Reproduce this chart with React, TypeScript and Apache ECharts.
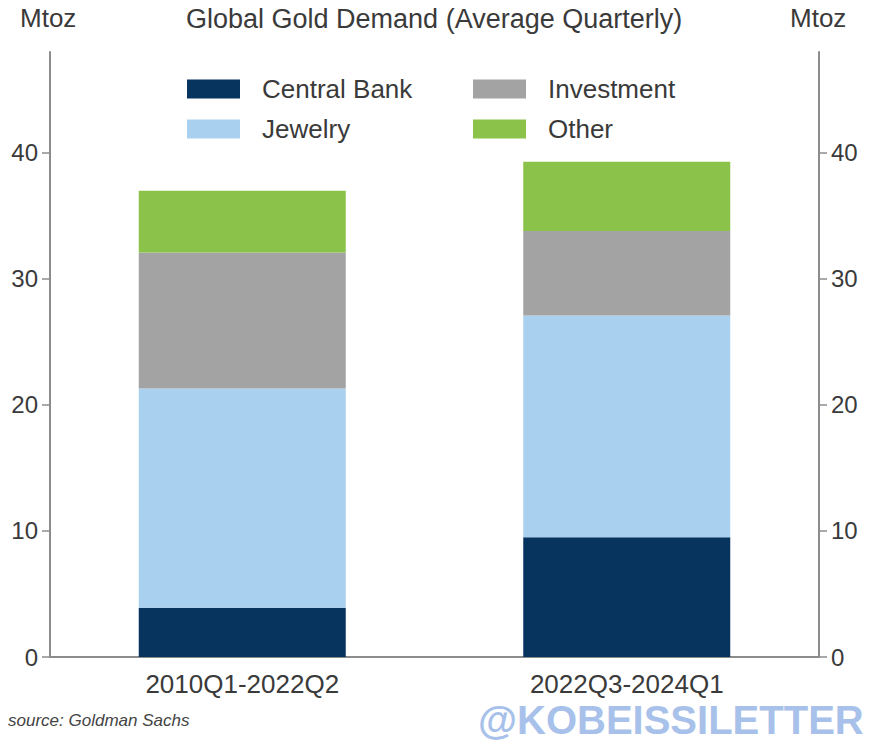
import React, { useEffect, useRef } from "react";
import * as echarts from "echarts";

const categories = ["2010Q1-2022Q2", "2022Q3-2024Q1"];
const centralBank = [3.9, 9.5];
const jewelry = [17.4, 17.6];
const investment = [10.8, 6.7];
const other = [4.9, 5.5];
const yTicks = [0, 10, 20, 30, 40];

const seriesNames = ["Central Bank", "Jewelry", "Investment", "Other"];
const seriesColors = ["#07335f", "#a9d1ef", "#a3a3a3", "#8bc249"];
const seriesData = [centralBank, jewelry, investment, other];

const FONT = "'Liberation Sans', Arial, sans-serif";
const TXT = "#3a3a3a";

export default function App() {
  const ref = useRef<HTMLDivElement>(null);
  useEffect(() => {
    if (!ref.current) return;
    const chart = echarts.init(ref.current, undefined, { renderer: "svg" });
    const legendPos = [
      { left: 187, top: 76 },
      { left: 187, top: 116 },
      { left: 473, top: 76 },
      { left: 473, top: 116 },
    ];
    const yAxisCommon = (position: "left" | "right") => ({
      type: "value",
      position,
      min: 0,
      max: 48,
      interval: 10,
      splitLine: { show: false },
      axisLine: { show: true, lineStyle: { color: "#8c8c8c", width: 2 } },
      axisTick: {
        show: true,
        length: 8,
        customValues: yTicks,
        lineStyle: { color: "#8c8c8c", width: 1.5 },
      },
      axisLabel: {
        customValues: yTicks,
        margin: 12,
        fontSize: 24,
        color: TXT,
        fontFamily: FONT,
      },
    });
    chart.setOption({
      animation: false,
      backgroundColor: "#ffffff",
      textStyle: { fontFamily: FONT },
      title: [
        {
          text: "Global Gold Demand (Average Quarterly)",
          left: 186,
          top: 5,
          padding: 0,
          textStyle: { fontSize: 27, fontWeight: "normal", color: TXT, fontFamily: FONT },
        },
        {
          text: "Mtoz",
          left: 20,
          top: 5,
          padding: 0,
          textStyle: { fontSize: 26, fontWeight: "normal", color: TXT, fontFamily: FONT },
        },
        {
          text: "Mtoz",
          left: 790,
          top: 5,
          padding: 0,
          textStyle: { fontSize: 26, fontWeight: "normal", color: TXT, fontFamily: FONT },
        },
      ],
      legend: seriesNames.map((name, i) => ({
        data: [name],
        left: legendPos[i].left,
        top: legendPos[i].top,
        padding: 0,
        itemWidth: 53,
        itemHeight: 19,
        icon: "rect",
        selectedMode: false,
        textStyle: {
          fontSize: 26,
          color: TXT,
          fontFamily: FONT,
          padding: [0, 0, 0, 17],
        },
      })),
      grid: {
        left: 50,
        right: 58,
        top: 52,
        bottom: 95,
        containLabel: false,
        outerBoundsMode: "none",
      },
      xAxis: {
        type: "category",
        data: categories,
        axisLine: { show: true, lineStyle: { color: "#8c8c8c", width: 2 } },
        axisTick: { show: false },
        axisLabel: { fontSize: 26, color: TXT, fontFamily: FONT, margin: 14 },
      },
      yAxis: [yAxisCommon("left"), yAxisCommon("right")],
      series: seriesNames.map((name, i) => ({
        name,
        type: "bar",
        stack: "total",
        barWidth: 207,
        yAxisIndex: 0,
        itemStyle: { color: seriesColors[i] },
        data: seriesData[i],
      })),
      graphic: [
        {
          type: "text",
          left: 8,
          top: 712,
          style: {
            text: "source: Goldman Sachs",
            font: `italic 17px ${FONT}`,
            fill: "#444444",
          },
        },
        {
          type: "text",
          left: 478,
          top: 700,
          style: {
            text: "@KOBEISSILETTER",
            font: `bold 40px ${FONT}`,
            fill: "#a8c1ea",
          },
        },
      ],
    });
    return () => chart.dispose();
  }, []);
  return (
    <div
      ref={ref}
      style={{ position: "fixed", left: 0, top: 0, width: 877, height: 752 }}
    />
  );
}
